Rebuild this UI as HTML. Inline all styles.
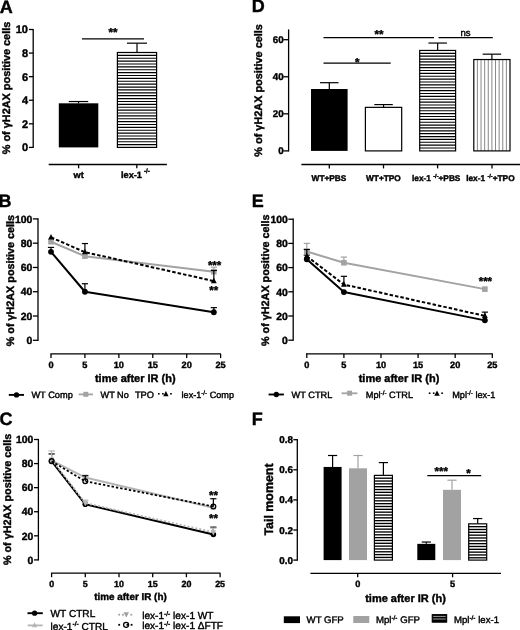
<!DOCTYPE html>
<html><head><meta charset="utf-8"><style>
html,body{margin:0;padding:0;background:#fff;width:520px;height:630px;overflow:hidden}
svg{display:block;will-change:transform}
text{font-family:"Liberation Sans", sans-serif;text-rendering:geometricPrecision}
</style></head><body>
<svg width="520" height="630" viewBox="0 0 520 630">
<rect width="520" height="630" fill="#fff"/>
<text x="-0.20" y="12.50" font-size="18" font-weight="bold" text-anchor="start" fill="#000" stroke="#000" stroke-width="0.4" >A</text>
<text x="0" y="0" font-size="10.9" font-weight="bold" text-anchor="middle" stroke="#000" stroke-width="0.4" transform="translate(9.6,88.0) rotate(-90)">% of γH2AX positive cells</text>
<line x1="33.20" y1="28.90" x2="33.20" y2="148.00" stroke="#000" stroke-width="1.3" />
<line x1="28.90" y1="147.40" x2="33.20" y2="147.40" stroke="#000" stroke-width="1.3" />
<text x="28.00" y="151.34" font-size="11" font-weight="bold" text-anchor="end" fill="#000" stroke="#000" stroke-width="0.4" >0</text>
<line x1="28.90" y1="123.82" x2="33.20" y2="123.82" stroke="#000" stroke-width="1.3" />
<text x="28.00" y="127.76" font-size="11" font-weight="bold" text-anchor="end" fill="#000" stroke="#000" stroke-width="0.4" >2</text>
<line x1="28.90" y1="100.24" x2="33.20" y2="100.24" stroke="#000" stroke-width="1.3" />
<text x="28.00" y="104.18" font-size="11" font-weight="bold" text-anchor="end" fill="#000" stroke="#000" stroke-width="0.4" >4</text>
<line x1="28.90" y1="76.66" x2="33.20" y2="76.66" stroke="#000" stroke-width="1.3" />
<text x="28.00" y="80.60" font-size="11" font-weight="bold" text-anchor="end" fill="#000" stroke="#000" stroke-width="0.4" >6</text>
<line x1="28.90" y1="53.08" x2="33.20" y2="53.08" stroke="#000" stroke-width="1.3" />
<text x="28.00" y="57.02" font-size="11" font-weight="bold" text-anchor="end" fill="#000" stroke="#000" stroke-width="0.4" >8</text>
<line x1="28.90" y1="29.50" x2="33.20" y2="29.50" stroke="#000" stroke-width="1.3" />
<text x="28.00" y="33.44" font-size="11" font-weight="bold" text-anchor="end" fill="#000" stroke="#000" stroke-width="0.4" >10</text>
<rect x="58.80" y="103.31" width="39.50" height="44.09" fill="#000" stroke="none" stroke-width="1.2" />
<line x1="78.50" y1="103.31" x2="78.50" y2="101.54" stroke="#000" stroke-width="1.2" />
<line x1="68.75" y1="101.54" x2="88.25" y2="101.54" stroke="#000" stroke-width="1.2" />
<line x1="137.00" y1="52.49" x2="137.00" y2="43.18" stroke="#000" stroke-width="1.2" />
<line x1="127.00" y1="43.18" x2="147.00" y2="43.18" stroke="#000" stroke-width="1.2" />
<rect x="117.40" y="52.49" width="39.20" height="94.91" fill="#fff" stroke="none" stroke-width="1.2" />
<line x1="117.40" y1="55.37" x2="156.60" y2="55.37" stroke="#000" stroke-width="1.15" />
<line x1="117.40" y1="58.25" x2="156.60" y2="58.25" stroke="#000" stroke-width="1.15" />
<line x1="117.40" y1="61.13" x2="156.60" y2="61.13" stroke="#000" stroke-width="1.15" />
<line x1="117.40" y1="64.01" x2="156.60" y2="64.01" stroke="#000" stroke-width="1.15" />
<line x1="117.40" y1="66.89" x2="156.60" y2="66.89" stroke="#000" stroke-width="1.15" />
<line x1="117.40" y1="69.77" x2="156.60" y2="69.77" stroke="#000" stroke-width="1.15" />
<line x1="117.40" y1="72.65" x2="156.60" y2="72.65" stroke="#000" stroke-width="1.15" />
<line x1="117.40" y1="75.53" x2="156.60" y2="75.53" stroke="#000" stroke-width="1.15" />
<line x1="117.40" y1="78.41" x2="156.60" y2="78.41" stroke="#000" stroke-width="1.15" />
<line x1="117.40" y1="81.29" x2="156.60" y2="81.29" stroke="#000" stroke-width="1.15" />
<line x1="117.40" y1="84.17" x2="156.60" y2="84.17" stroke="#000" stroke-width="1.15" />
<line x1="117.40" y1="87.05" x2="156.60" y2="87.05" stroke="#000" stroke-width="1.15" />
<line x1="117.40" y1="89.93" x2="156.60" y2="89.93" stroke="#000" stroke-width="1.15" />
<line x1="117.40" y1="92.81" x2="156.60" y2="92.81" stroke="#000" stroke-width="1.15" />
<line x1="117.40" y1="95.69" x2="156.60" y2="95.69" stroke="#000" stroke-width="1.15" />
<line x1="117.40" y1="98.57" x2="156.60" y2="98.57" stroke="#000" stroke-width="1.15" />
<line x1="117.40" y1="101.45" x2="156.60" y2="101.45" stroke="#000" stroke-width="1.15" />
<line x1="117.40" y1="104.33" x2="156.60" y2="104.33" stroke="#000" stroke-width="1.15" />
<line x1="117.40" y1="107.21" x2="156.60" y2="107.21" stroke="#000" stroke-width="1.15" />
<line x1="117.40" y1="110.09" x2="156.60" y2="110.09" stroke="#000" stroke-width="1.15" />
<line x1="117.40" y1="112.97" x2="156.60" y2="112.97" stroke="#000" stroke-width="1.15" />
<line x1="117.40" y1="115.85" x2="156.60" y2="115.85" stroke="#000" stroke-width="1.15" />
<line x1="117.40" y1="118.73" x2="156.60" y2="118.73" stroke="#000" stroke-width="1.15" />
<line x1="117.40" y1="121.61" x2="156.60" y2="121.61" stroke="#000" stroke-width="1.15" />
<line x1="117.40" y1="124.49" x2="156.60" y2="124.49" stroke="#000" stroke-width="1.15" />
<line x1="117.40" y1="127.37" x2="156.60" y2="127.37" stroke="#000" stroke-width="1.15" />
<line x1="117.40" y1="130.25" x2="156.60" y2="130.25" stroke="#000" stroke-width="1.15" />
<line x1="117.40" y1="133.13" x2="156.60" y2="133.13" stroke="#000" stroke-width="1.15" />
<line x1="117.40" y1="136.01" x2="156.60" y2="136.01" stroke="#000" stroke-width="1.15" />
<line x1="117.40" y1="138.89" x2="156.60" y2="138.89" stroke="#000" stroke-width="1.15" />
<line x1="117.40" y1="141.77" x2="156.60" y2="141.77" stroke="#000" stroke-width="1.15" />
<line x1="117.40" y1="144.65" x2="156.60" y2="144.65" stroke="#000" stroke-width="1.15" />
<rect x="117.40" y="52.49" width="39.20" height="94.91" fill="none" stroke="#000" stroke-width="1.2" />
<line x1="82.00" y1="38.80" x2="144.00" y2="38.80" stroke="#000" stroke-width="1.3" />
<text x="113.00" y="36.30" font-size="11.5" font-weight="bold" text-anchor="middle" fill="#000" stroke="#000" stroke-width="0.4" >**</text>
<line x1="48.70" y1="164.50" x2="166.90" y2="164.50" stroke="#000" stroke-width="1.3" />
<line x1="78.60" y1="164.50" x2="78.60" y2="168.30" stroke="#000" stroke-width="1.3" />
<line x1="136.80" y1="164.50" x2="136.80" y2="168.30" stroke="#000" stroke-width="1.3" />
<text x="78.70" y="178.00" font-size="9.2" font-weight="bold" text-anchor="middle" fill="#000" stroke="#000" stroke-width="0.4" >wt</text>
<text x="121.00" y="178.00" font-size="9.2" font-weight="bold" text-anchor="start" fill="#000" stroke="#000" stroke-width="0.4" >lex-1</text>
<text x="143.90" y="173.30" font-size="6.2" font-weight="bold" text-anchor="start" fill="#000" stroke="#000" stroke-width="0.4" >-/-</text>
<text x="251.80" y="12.40" font-size="18" font-weight="bold" text-anchor="start" fill="#000" stroke="#000" stroke-width="0.4" >D</text>
<text x="0" y="0" font-size="10.9" font-weight="bold" text-anchor="middle" stroke="#000" stroke-width="0.4" transform="translate(262.0,90.4) rotate(-90)">% of γH2AX positive cells</text>
<line x1="288.60" y1="29.40" x2="288.60" y2="151.50" stroke="#000" stroke-width="1.3" />
<line x1="283.40" y1="150.90" x2="288.60" y2="150.90" stroke="#000" stroke-width="1.3" />
<text x="283.60" y="154.40" font-size="9.8" font-weight="bold" text-anchor="end" fill="#000" stroke="#000" stroke-width="0.4" >0</text>
<line x1="283.40" y1="113.83" x2="288.60" y2="113.83" stroke="#000" stroke-width="1.3" />
<text x="283.60" y="117.33" font-size="9.8" font-weight="bold" text-anchor="end" fill="#000" stroke="#000" stroke-width="0.4" >20</text>
<line x1="283.40" y1="76.77" x2="288.60" y2="76.77" stroke="#000" stroke-width="1.3" />
<text x="283.60" y="80.27" font-size="9.8" font-weight="bold" text-anchor="end" fill="#000" stroke="#000" stroke-width="0.4" >40</text>
<line x1="283.40" y1="39.70" x2="288.60" y2="39.70" stroke="#000" stroke-width="1.3" />
<text x="283.60" y="43.20" font-size="9.8" font-weight="bold" text-anchor="end" fill="#000" stroke="#000" stroke-width="0.4" >60</text>
<line x1="329.30" y1="89.00" x2="329.30" y2="82.70" stroke="#000" stroke-width="1.2" />
<line x1="320.05" y1="82.70" x2="338.55" y2="82.70" stroke="#000" stroke-width="1.2" />
<rect x="311.00" y="89.00" width="36.60" height="61.90" fill="#000" stroke="none" stroke-width="1.2" />
<line x1="383.55" y1="107.35" x2="383.55" y2="104.57" stroke="#000" stroke-width="1.2" />
<line x1="374.30" y1="104.57" x2="392.80" y2="104.57" stroke="#000" stroke-width="1.2" />
<rect x="365.40" y="107.35" width="36.30" height="43.55" fill="#fff" stroke="#000" stroke-width="1.2" />
<line x1="437.65" y1="50.45" x2="437.65" y2="43.04" stroke="#000" stroke-width="1.2" />
<line x1="428.40" y1="43.04" x2="446.90" y2="43.04" stroke="#000" stroke-width="1.2" />
<rect x="419.70" y="50.45" width="35.90" height="100.45" fill="#fff" stroke="none" stroke-width="1.2" />
<line x1="419.70" y1="53.32" x2="455.60" y2="53.32" stroke="#000" stroke-width="1.15" />
<line x1="419.70" y1="56.19" x2="455.60" y2="56.19" stroke="#000" stroke-width="1.15" />
<line x1="419.70" y1="59.06" x2="455.60" y2="59.06" stroke="#000" stroke-width="1.15" />
<line x1="419.70" y1="61.93" x2="455.60" y2="61.93" stroke="#000" stroke-width="1.15" />
<line x1="419.70" y1="64.80" x2="455.60" y2="64.80" stroke="#000" stroke-width="1.15" />
<line x1="419.70" y1="67.67" x2="455.60" y2="67.67" stroke="#000" stroke-width="1.15" />
<line x1="419.70" y1="70.54" x2="455.60" y2="70.54" stroke="#000" stroke-width="1.15" />
<line x1="419.70" y1="73.41" x2="455.60" y2="73.41" stroke="#000" stroke-width="1.15" />
<line x1="419.70" y1="76.28" x2="455.60" y2="76.28" stroke="#000" stroke-width="1.15" />
<line x1="419.70" y1="79.15" x2="455.60" y2="79.15" stroke="#000" stroke-width="1.15" />
<line x1="419.70" y1="82.02" x2="455.60" y2="82.02" stroke="#000" stroke-width="1.15" />
<line x1="419.70" y1="84.89" x2="455.60" y2="84.89" stroke="#000" stroke-width="1.15" />
<line x1="419.70" y1="87.76" x2="455.60" y2="87.76" stroke="#000" stroke-width="1.15" />
<line x1="419.70" y1="90.63" x2="455.60" y2="90.63" stroke="#000" stroke-width="1.15" />
<line x1="419.70" y1="93.50" x2="455.60" y2="93.50" stroke="#000" stroke-width="1.15" />
<line x1="419.70" y1="96.37" x2="455.60" y2="96.37" stroke="#000" stroke-width="1.15" />
<line x1="419.70" y1="99.24" x2="455.60" y2="99.24" stroke="#000" stroke-width="1.15" />
<line x1="419.70" y1="102.11" x2="455.60" y2="102.11" stroke="#000" stroke-width="1.15" />
<line x1="419.70" y1="104.98" x2="455.60" y2="104.98" stroke="#000" stroke-width="1.15" />
<line x1="419.70" y1="107.85" x2="455.60" y2="107.85" stroke="#000" stroke-width="1.15" />
<line x1="419.70" y1="110.72" x2="455.60" y2="110.72" stroke="#000" stroke-width="1.15" />
<line x1="419.70" y1="113.59" x2="455.60" y2="113.59" stroke="#000" stroke-width="1.15" />
<line x1="419.70" y1="116.46" x2="455.60" y2="116.46" stroke="#000" stroke-width="1.15" />
<line x1="419.70" y1="119.33" x2="455.60" y2="119.33" stroke="#000" stroke-width="1.15" />
<line x1="419.70" y1="122.20" x2="455.60" y2="122.20" stroke="#000" stroke-width="1.15" />
<line x1="419.70" y1="125.07" x2="455.60" y2="125.07" stroke="#000" stroke-width="1.15" />
<line x1="419.70" y1="127.94" x2="455.60" y2="127.94" stroke="#000" stroke-width="1.15" />
<line x1="419.70" y1="130.81" x2="455.60" y2="130.81" stroke="#000" stroke-width="1.15" />
<line x1="419.70" y1="133.68" x2="455.60" y2="133.68" stroke="#000" stroke-width="1.15" />
<line x1="419.70" y1="136.55" x2="455.60" y2="136.55" stroke="#000" stroke-width="1.15" />
<line x1="419.70" y1="139.42" x2="455.60" y2="139.42" stroke="#000" stroke-width="1.15" />
<line x1="419.70" y1="142.29" x2="455.60" y2="142.29" stroke="#000" stroke-width="1.15" />
<line x1="419.70" y1="145.16" x2="455.60" y2="145.16" stroke="#000" stroke-width="1.15" />
<line x1="419.70" y1="148.03" x2="455.60" y2="148.03" stroke="#000" stroke-width="1.15" />
<rect x="419.70" y="50.45" width="35.90" height="100.45" fill="none" stroke="#000" stroke-width="1.2" />
<line x1="491.90" y1="59.53" x2="491.90" y2="54.16" stroke="#000" stroke-width="1.2" />
<line x1="482.65" y1="54.16" x2="501.15" y2="54.16" stroke="#000" stroke-width="1.2" />
<rect x="473.80" y="59.53" width="36.20" height="91.37" fill="#fff" stroke="none" stroke-width="1.2" />
<line x1="477.42" y1="59.53" x2="477.42" y2="150.90" stroke="#7a7a7a" stroke-width="0.9" />
<line x1="481.04" y1="59.53" x2="481.04" y2="150.90" stroke="#7a7a7a" stroke-width="0.9" />
<line x1="484.66" y1="59.53" x2="484.66" y2="150.90" stroke="#7a7a7a" stroke-width="0.9" />
<line x1="488.28" y1="59.53" x2="488.28" y2="150.90" stroke="#7a7a7a" stroke-width="0.9" />
<line x1="491.90" y1="59.53" x2="491.90" y2="150.90" stroke="#7a7a7a" stroke-width="0.9" />
<line x1="495.52" y1="59.53" x2="495.52" y2="150.90" stroke="#7a7a7a" stroke-width="0.9" />
<line x1="499.14" y1="59.53" x2="499.14" y2="150.90" stroke="#7a7a7a" stroke-width="0.9" />
<line x1="502.76" y1="59.53" x2="502.76" y2="150.90" stroke="#7a7a7a" stroke-width="0.9" />
<line x1="506.38" y1="59.53" x2="506.38" y2="150.90" stroke="#7a7a7a" stroke-width="0.9" />
<rect x="473.80" y="59.53" width="36.20" height="91.37" fill="none" stroke="#000" stroke-width="1.2" />
<line x1="323.50" y1="63.20" x2="390.70" y2="63.20" stroke="#000" stroke-width="1.3" />
<text x="357.30" y="65.90" font-size="11.5" font-weight="bold" text-anchor="middle" fill="#000" stroke="#000" stroke-width="0.4" >*</text>
<line x1="323.50" y1="37.70" x2="434.00" y2="37.70" stroke="#000" stroke-width="1.3" />
<text x="379.10" y="38.20" font-size="11.5" font-weight="bold" text-anchor="middle" fill="#000" stroke="#000" stroke-width="0.4" >**</text>
<line x1="438.50" y1="37.70" x2="492.80" y2="37.70" stroke="#000" stroke-width="1.3" />
<text x="465.60" y="36.00" font-size="9.6" font-weight="normal" text-anchor="middle" fill="#000" stroke="#000" stroke-width="0.4" >ns</text>
<line x1="301.40" y1="164.50" x2="521.10" y2="164.50" stroke="#000" stroke-width="1.3" />
<line x1="329.30" y1="164.50" x2="329.30" y2="168.40" stroke="#000" stroke-width="1.3" />
<line x1="383.50" y1="164.50" x2="383.50" y2="168.40" stroke="#000" stroke-width="1.3" />
<line x1="437.60" y1="164.50" x2="437.60" y2="168.40" stroke="#000" stroke-width="1.3" />
<line x1="492.00" y1="164.50" x2="492.00" y2="168.40" stroke="#000" stroke-width="1.3" />
<text x="329.00" y="180.60" font-size="8.3" font-weight="bold" text-anchor="middle" fill="#000" stroke="#000" stroke-width="0.4" >WT+PBS</text>
<text x="383.40" y="180.60" font-size="8.3" font-weight="bold" text-anchor="middle" fill="#000" stroke="#000" stroke-width="0.4" >WT+TPO</text>
<text x="412.00" y="180.60" font-size="8.3" font-weight="bold" text-anchor="start" fill="#000" stroke="#000" stroke-width="0.4" >lex-1 <tspan font-size="5.6" dy="-2.80">-/-</tspan><tspan dy="2.8">+PBS</tspan></text>
<text x="466.20" y="180.60" font-size="8.3" font-weight="bold" text-anchor="start" fill="#000" stroke="#000" stroke-width="0.4" >lex-1 <tspan font-size="5.6" dy="-2.80">-/-</tspan><tspan dy="2.8">+TPO</tspan></text>
<text x="-1.60" y="206.80" font-size="18" font-weight="bold" text-anchor="start" fill="#000" stroke="#000" stroke-width="0.4" >B</text>
<text x="0" y="0" font-size="10.8" font-weight="bold" text-anchor="middle" stroke="#000" stroke-width="0.4" transform="translate(13.9,280.6) rotate(-90)">% of γH2AX positive cells</text>
<line x1="38.00" y1="218.30" x2="38.00" y2="340.90" stroke="#000" stroke-width="1.3" />
<line x1="32.90" y1="340.30" x2="38.00" y2="340.30" stroke="#000" stroke-width="1.3" />
<text x="32.30" y="344.02" font-size="10.4" font-weight="bold" text-anchor="end" fill="#000" stroke="#000" stroke-width="0.4" >0</text>
<line x1="32.90" y1="316.02" x2="38.00" y2="316.02" stroke="#000" stroke-width="1.3" />
<text x="32.30" y="319.74" font-size="10.4" font-weight="bold" text-anchor="end" fill="#000" stroke="#000" stroke-width="0.4" >20</text>
<line x1="32.90" y1="291.74" x2="38.00" y2="291.74" stroke="#000" stroke-width="1.3" />
<text x="32.30" y="295.46" font-size="10.4" font-weight="bold" text-anchor="end" fill="#000" stroke="#000" stroke-width="0.4" >40</text>
<line x1="32.90" y1="267.46" x2="38.00" y2="267.46" stroke="#000" stroke-width="1.3" />
<text x="32.30" y="271.18" font-size="10.4" font-weight="bold" text-anchor="end" fill="#000" stroke="#000" stroke-width="0.4" >60</text>
<line x1="32.90" y1="243.18" x2="38.00" y2="243.18" stroke="#000" stroke-width="1.3" />
<text x="32.30" y="246.90" font-size="10.4" font-weight="bold" text-anchor="end" fill="#000" stroke="#000" stroke-width="0.4" >80</text>
<line x1="32.90" y1="218.90" x2="38.00" y2="218.90" stroke="#000" stroke-width="1.3" />
<text x="32.30" y="222.62" font-size="10.4" font-weight="bold" text-anchor="end" fill="#000" stroke="#000" stroke-width="0.4" >100</text>
<polyline points="51.00,251.80 84.92,291.74 213.84,312.26" fill="none" stroke="#000" stroke-width="2.0" stroke-linejoin="round" />
<line x1="51.00" y1="251.80" x2="51.00" y2="247.43" stroke="#000" stroke-width="1.2" />
<line x1="47.90" y1="247.43" x2="54.10" y2="247.43" stroke="#000" stroke-width="1.2" />
<line x1="84.92" y1="291.74" x2="84.92" y2="283.73" stroke="#000" stroke-width="1.2" />
<line x1="81.83" y1="283.73" x2="88.02" y2="283.73" stroke="#000" stroke-width="1.2" />
<line x1="213.84" y1="312.26" x2="213.84" y2="307.64" stroke="#000" stroke-width="1.2" />
<line x1="210.74" y1="307.64" x2="216.94" y2="307.64" stroke="#000" stroke-width="1.2" />
<circle cx="51.00" cy="251.80" r="2.9" fill="#000" stroke="none" stroke-width="1"/>
<circle cx="84.92" cy="291.74" r="2.9" fill="#000" stroke="none" stroke-width="1"/>
<circle cx="213.84" cy="312.26" r="2.9" fill="#000" stroke="none" stroke-width="1"/>
<polyline points="51.00,241.72 84.92,256.17 213.84,271.71" fill="none" stroke="#a3a3a3" stroke-width="2.0" stroke-linejoin="round" />
<line x1="213.84" y1="271.71" x2="213.84" y2="267.22" stroke="#a3a3a3" stroke-width="1.2" />
<line x1="210.74" y1="267.22" x2="216.94" y2="267.22" stroke="#a3a3a3" stroke-width="1.2" />
<rect x="48.20" y="238.92" width="5.6" height="5.6" fill="#a3a3a3"/>
<rect x="82.12" y="253.37" width="5.6" height="5.6" fill="#a3a3a3"/>
<rect x="211.04" y="268.91" width="5.6" height="5.6" fill="#a3a3a3"/>
<polyline points="51.00,237.35 84.92,252.16 213.84,281.06" fill="none" stroke="#000" stroke-width="2.0" stroke-linejoin="round" stroke-dasharray="3.5,2"/>
<line x1="84.92" y1="252.16" x2="84.92" y2="243.54" stroke="#000" stroke-width="1.2" />
<line x1="81.83" y1="243.54" x2="88.02" y2="243.54" stroke="#000" stroke-width="1.2" />
<line x1="213.84" y1="281.06" x2="213.84" y2="270.50" stroke="#000" stroke-width="1.2" />
<line x1="210.74" y1="270.50" x2="216.94" y2="270.50" stroke="#000" stroke-width="1.2" />
<polygon points="51.00,233.94 48.10,239.45 53.90,239.45" fill="#000"/>
<polygon points="84.92,248.75 82.02,254.26 87.83,254.26" fill="#000"/>
<polygon points="213.84,277.64 210.94,283.15 216.74,283.15" fill="#000"/>
<text x="214.60" y="268.70" font-size="11.5" font-weight="bold" text-anchor="middle" fill="#000" stroke="#000" stroke-width="0.4" >***</text>
<text x="213.80" y="293.70" font-size="11.5" font-weight="bold" text-anchor="middle" fill="#000" stroke="#000" stroke-width="0.4" >**</text>
<line x1="50.40" y1="353.90" x2="220.90" y2="353.90" stroke="#000" stroke-width="1.3" />
<line x1="51.00" y1="353.90" x2="51.00" y2="358.10" stroke="#000" stroke-width="1.3" />
<text x="51.00" y="367.80" font-size="9.2" font-weight="bold" text-anchor="middle" fill="#000" stroke="#000" stroke-width="0.4" >0</text>
<line x1="84.92" y1="353.90" x2="84.92" y2="358.10" stroke="#000" stroke-width="1.3" />
<text x="84.92" y="367.80" font-size="9.2" font-weight="bold" text-anchor="middle" fill="#000" stroke="#000" stroke-width="0.4" >5</text>
<line x1="118.85" y1="353.90" x2="118.85" y2="358.10" stroke="#000" stroke-width="1.3" />
<text x="118.85" y="367.80" font-size="9.2" font-weight="bold" text-anchor="middle" fill="#000" stroke="#000" stroke-width="0.4" >10</text>
<line x1="152.78" y1="353.90" x2="152.78" y2="358.10" stroke="#000" stroke-width="1.3" />
<text x="152.78" y="367.80" font-size="9.2" font-weight="bold" text-anchor="middle" fill="#000" stroke="#000" stroke-width="0.4" >15</text>
<line x1="186.70" y1="353.90" x2="186.70" y2="358.10" stroke="#000" stroke-width="1.3" />
<text x="186.70" y="367.80" font-size="9.2" font-weight="bold" text-anchor="middle" fill="#000" stroke="#000" stroke-width="0.4" >20</text>
<line x1="220.62" y1="353.90" x2="220.62" y2="358.10" stroke="#000" stroke-width="1.3" />
<text x="220.62" y="367.80" font-size="9.2" font-weight="bold" text-anchor="middle" fill="#000" stroke="#000" stroke-width="0.4" >25</text>
<text x="135.30" y="382.20" font-size="11" font-weight="bold" text-anchor="middle" fill="#000" stroke="#000" stroke-width="0.4" >time after IR (h)</text>
<line x1="8.80" y1="394.90" x2="24.00" y2="394.90" stroke="#000" stroke-width="1.9" />
<circle cx="16.50" cy="394.90" r="2.65" fill="#000" stroke="none" stroke-width="1"/>
<text x="31.40" y="398.20" font-size="9.25" font-weight="normal" text-anchor="start" fill="#000" stroke="#000" stroke-width="0.4" >WT Comp</text>
<line x1="78.70" y1="394.40" x2="93.00" y2="394.40" stroke="#a3a3a3" stroke-width="1.8" />
<rect x="83.30" y="391.80" width="5.0" height="5.0" fill="#a3a3a3"/>
<text x="100.60" y="398.20" font-size="9.1" font-weight="normal" text-anchor="start" fill="#000" stroke="#000" stroke-width="0.4" >WT No</text>
<text x="134.90" y="398.20" font-size="9.3" font-weight="normal" text-anchor="start" fill="#000" stroke="#000" stroke-width="0.4" >TPO</text>
<rect x="158.00" y="393.00" width="1.6" height="1.6" fill="#000"/>
<rect x="162.10" y="393.00" width="1.6" height="1.6" fill="#000"/>
<rect x="170.20" y="393.00" width="1.6" height="1.6" fill="#000"/>
<polygon points="165.90,391.12 163.20,396.25 168.60,396.25" fill="#000"/>
<text x="181.60" y="398.20" font-size="9.1" font-weight="normal" text-anchor="start" fill="#000" stroke="#000" stroke-width="0.4" >lex-1<tspan font-size="6.2" dy="-3.10">-/-</tspan><tspan dy="3.1"> Comp</tspan></text>
<text x="251.80" y="207.10" font-size="18" font-weight="bold" text-anchor="start" fill="#000" stroke="#000" stroke-width="0.4" >E</text>
<text x="0" y="0" font-size="10.8" font-weight="bold" text-anchor="middle" stroke="#000" stroke-width="0.4" transform="translate(268.7,280.3) rotate(-90)">% of γH2AX positive cells</text>
<line x1="293.20" y1="218.60" x2="293.20" y2="340.80" stroke="#000" stroke-width="1.3" />
<line x1="288.30" y1="340.20" x2="293.20" y2="340.20" stroke="#000" stroke-width="1.3" />
<text x="287.80" y="343.92" font-size="10.4" font-weight="bold" text-anchor="end" fill="#000" stroke="#000" stroke-width="0.4" >0</text>
<line x1="288.30" y1="316.00" x2="293.20" y2="316.00" stroke="#000" stroke-width="1.3" />
<text x="287.80" y="319.72" font-size="10.4" font-weight="bold" text-anchor="end" fill="#000" stroke="#000" stroke-width="0.4" >20</text>
<line x1="288.30" y1="291.80" x2="293.20" y2="291.80" stroke="#000" stroke-width="1.3" />
<text x="287.80" y="295.52" font-size="10.4" font-weight="bold" text-anchor="end" fill="#000" stroke="#000" stroke-width="0.4" >40</text>
<line x1="288.30" y1="267.60" x2="293.20" y2="267.60" stroke="#000" stroke-width="1.3" />
<text x="287.80" y="271.32" font-size="10.4" font-weight="bold" text-anchor="end" fill="#000" stroke="#000" stroke-width="0.4" >60</text>
<line x1="288.30" y1="243.40" x2="293.20" y2="243.40" stroke="#000" stroke-width="1.3" />
<text x="287.80" y="247.12" font-size="10.4" font-weight="bold" text-anchor="end" fill="#000" stroke="#000" stroke-width="0.4" >80</text>
<line x1="288.30" y1="219.20" x2="293.20" y2="219.20" stroke="#000" stroke-width="1.3" />
<text x="287.80" y="222.92" font-size="10.4" font-weight="bold" text-anchor="end" fill="#000" stroke="#000" stroke-width="0.4" >100</text>
<polyline points="306.80,259.25 343.90,292.04 484.88,320.36" fill="none" stroke="#000" stroke-width="2.0" stroke-linejoin="round" />
<line x1="306.80" y1="259.25" x2="306.80" y2="255.14" stroke="#000" stroke-width="1.2" />
<line x1="303.70" y1="255.14" x2="309.90" y2="255.14" stroke="#000" stroke-width="1.2" />
<circle cx="306.80" cy="259.25" r="2.9" fill="#000" stroke="none" stroke-width="1"/>
<circle cx="343.90" cy="292.04" r="2.9" fill="#000" stroke="none" stroke-width="1"/>
<circle cx="484.88" cy="320.36" r="2.9" fill="#000" stroke="none" stroke-width="1"/>
<polyline points="306.80,251.51 343.90,262.76 484.88,289.14" fill="none" stroke="#a3a3a3" stroke-width="2.0" stroke-linejoin="round" />
<line x1="306.80" y1="251.51" x2="306.80" y2="243.40" stroke="#a3a3a3" stroke-width="1.2" />
<line x1="303.70" y1="243.40" x2="309.90" y2="243.40" stroke="#a3a3a3" stroke-width="1.2" />
<line x1="343.90" y1="262.76" x2="343.90" y2="257.07" stroke="#a3a3a3" stroke-width="1.2" />
<line x1="340.80" y1="257.07" x2="347.00" y2="257.07" stroke="#a3a3a3" stroke-width="1.2" />
<rect x="304.00" y="248.71" width="5.6" height="5.6" fill="#a3a3a3"/>
<rect x="341.10" y="259.96" width="5.6" height="5.6" fill="#a3a3a3"/>
<rect x="482.08" y="286.34" width="5.6" height="5.6" fill="#a3a3a3"/>
<polyline points="306.80,256.23 343.90,284.54 484.88,315.88" fill="none" stroke="#000" stroke-width="2.0" stroke-linejoin="round" stroke-dasharray="3.5,2"/>
<line x1="306.80" y1="256.23" x2="306.80" y2="249.45" stroke="#000" stroke-width="1.2" />
<line x1="303.70" y1="249.45" x2="309.90" y2="249.45" stroke="#000" stroke-width="1.2" />
<line x1="343.90" y1="284.54" x2="343.90" y2="276.31" stroke="#000" stroke-width="1.2" />
<line x1="340.80" y1="276.31" x2="347.00" y2="276.31" stroke="#000" stroke-width="1.2" />
<line x1="484.88" y1="315.88" x2="484.88" y2="312.13" stroke="#000" stroke-width="1.2" />
<line x1="481.78" y1="312.13" x2="487.98" y2="312.13" stroke="#000" stroke-width="1.2" />
<polygon points="306.80,252.81 303.90,258.32 309.70,258.32" fill="#000"/>
<polygon points="343.90,281.12 341.00,286.63 346.80,286.63" fill="#000"/>
<polygon points="484.88,312.46 481.98,317.97 487.78,317.97" fill="#000"/>
<text x="485.40" y="284.50" font-size="11.5" font-weight="bold" text-anchor="middle" fill="#000" stroke="#000" stroke-width="0.4" >***</text>
<line x1="306.00" y1="353.80" x2="492.80" y2="353.80" stroke="#000" stroke-width="1.3" />
<line x1="306.80" y1="353.80" x2="306.80" y2="358.00" stroke="#000" stroke-width="1.3" />
<text x="306.80" y="367.60" font-size="9.2" font-weight="bold" text-anchor="middle" fill="#000" stroke="#000" stroke-width="0.4" >0</text>
<line x1="343.90" y1="353.80" x2="343.90" y2="358.00" stroke="#000" stroke-width="1.3" />
<text x="343.90" y="367.60" font-size="9.2" font-weight="bold" text-anchor="middle" fill="#000" stroke="#000" stroke-width="0.4" >5</text>
<line x1="381.00" y1="353.80" x2="381.00" y2="358.00" stroke="#000" stroke-width="1.3" />
<text x="381.00" y="367.60" font-size="9.2" font-weight="bold" text-anchor="middle" fill="#000" stroke="#000" stroke-width="0.4" >10</text>
<line x1="418.10" y1="353.80" x2="418.10" y2="358.00" stroke="#000" stroke-width="1.3" />
<text x="418.10" y="367.60" font-size="9.2" font-weight="bold" text-anchor="middle" fill="#000" stroke="#000" stroke-width="0.4" >15</text>
<line x1="455.20" y1="353.80" x2="455.20" y2="358.00" stroke="#000" stroke-width="1.3" />
<text x="455.20" y="367.60" font-size="9.2" font-weight="bold" text-anchor="middle" fill="#000" stroke="#000" stroke-width="0.4" >20</text>
<line x1="492.30" y1="353.80" x2="492.30" y2="358.00" stroke="#000" stroke-width="1.3" />
<text x="492.30" y="367.60" font-size="9.2" font-weight="bold" text-anchor="middle" fill="#000" stroke="#000" stroke-width="0.4" >25</text>
<text x="399.00" y="381.60" font-size="11" font-weight="bold" text-anchor="middle" fill="#000" stroke="#000" stroke-width="0.4" >time after IR (h)</text>
<line x1="268.60" y1="394.50" x2="283.90" y2="394.50" stroke="#000" stroke-width="1.9" />
<circle cx="276.30" cy="394.50" r="2.65" fill="#000" stroke="none" stroke-width="1"/>
<text x="291.60" y="397.80" font-size="9.2" font-weight="normal" text-anchor="start" fill="#000" stroke="#000" stroke-width="0.4" >WT CTRL</text>
<line x1="341.50" y1="393.30" x2="357.40" y2="393.30" stroke="#a3a3a3" stroke-width="1.8" />
<rect x="347.10" y="390.70" width="5.0" height="5.0" fill="#a3a3a3"/>
<text x="365.80" y="397.80" font-size="9.2" font-weight="normal" text-anchor="start" fill="#000" stroke="#000" stroke-width="0.4" >Mpl<tspan font-size="6.2" dy="-3.10">-/-</tspan><tspan dy="3.1"> CTRL</tspan></text>
<rect x="428.80" y="392.40" width="1.6" height="1.6" fill="#000"/>
<rect x="432.90" y="392.40" width="1.6" height="1.6" fill="#000"/>
<rect x="441.30" y="392.40" width="1.6" height="1.6" fill="#000"/>
<polygon points="437.00,390.46 434.25,395.69 439.75,395.69" fill="#000"/>
<text x="452.20" y="397.80" font-size="9.2" font-weight="normal" text-anchor="start" fill="#000" stroke="#000" stroke-width="0.4" >Mpl<tspan font-size="6.2" dy="-3.10">-/-</tspan><tspan dy="3.1"> lex-1</tspan></text>
<text x="-0.60" y="425.30" font-size="18" font-weight="bold" text-anchor="start" fill="#000" stroke="#000" stroke-width="0.4" >C</text>
<text x="0" y="0" font-size="10.8" font-weight="bold" text-anchor="middle" stroke="#000" stroke-width="0.4" transform="translate(11.1,499.4) rotate(-90)">% of γH2AX positive cells</text>
<line x1="38.40" y1="438.90" x2="38.40" y2="560.50" stroke="#000" stroke-width="1.3" />
<line x1="34.00" y1="559.90" x2="38.40" y2="559.90" stroke="#000" stroke-width="1.3" />
<text x="33.40" y="563.62" font-size="10.4" font-weight="bold" text-anchor="end" fill="#000" stroke="#000" stroke-width="0.4" >0</text>
<line x1="34.00" y1="535.82" x2="38.40" y2="535.82" stroke="#000" stroke-width="1.3" />
<text x="33.40" y="539.54" font-size="10.4" font-weight="bold" text-anchor="end" fill="#000" stroke="#000" stroke-width="0.4" >20</text>
<line x1="34.00" y1="511.74" x2="38.40" y2="511.74" stroke="#000" stroke-width="1.3" />
<text x="33.40" y="515.46" font-size="10.4" font-weight="bold" text-anchor="end" fill="#000" stroke="#000" stroke-width="0.4" >40</text>
<line x1="34.00" y1="487.66" x2="38.40" y2="487.66" stroke="#000" stroke-width="1.3" />
<text x="33.40" y="491.38" font-size="10.4" font-weight="bold" text-anchor="end" fill="#000" stroke="#000" stroke-width="0.4" >60</text>
<line x1="34.00" y1="463.58" x2="38.40" y2="463.58" stroke="#000" stroke-width="1.3" />
<text x="33.40" y="467.30" font-size="10.4" font-weight="bold" text-anchor="end" fill="#000" stroke="#000" stroke-width="0.4" >80</text>
<line x1="34.00" y1="439.50" x2="38.40" y2="439.50" stroke="#000" stroke-width="1.3" />
<text x="33.40" y="443.22" font-size="10.4" font-weight="bold" text-anchor="end" fill="#000" stroke="#000" stroke-width="0.4" >100</text>
<polyline points="51.60,461.05 85.30,504.28 213.36,534.50" fill="none" stroke="#000" stroke-width="2.0" stroke-linejoin="round" />
<line x1="51.60" y1="461.05" x2="51.60" y2="453.95" stroke="#000" stroke-width="1.2" />
<line x1="48.50" y1="453.95" x2="54.70" y2="453.95" stroke="#000" stroke-width="1.2" />
<line x1="213.36" y1="534.50" x2="213.36" y2="527.15" stroke="#000" stroke-width="1.2" />
<line x1="210.26" y1="527.15" x2="216.46" y2="527.15" stroke="#000" stroke-width="1.2" />
<circle cx="51.60" cy="461.05" r="2.8" fill="#000" stroke="none" stroke-width="1"/>
<circle cx="85.30" cy="504.28" r="2.8" fill="#000" stroke="none" stroke-width="1"/>
<circle cx="213.36" cy="534.50" r="2.8" fill="#000" stroke="none" stroke-width="1"/>
<polyline points="51.60,460.45 85.30,477.55 213.36,507.77" fill="none" stroke="#b5b5b5" stroke-width="2.0" stroke-linejoin="round" />
<line x1="51.60" y1="460.45" x2="51.60" y2="450.94" stroke="#b5b5b5" stroke-width="1.2" />
<line x1="48.50" y1="450.94" x2="54.70" y2="450.94" stroke="#b5b5b5" stroke-width="1.2" />
<line x1="85.30" y1="477.55" x2="85.30" y2="475.14" stroke="#b5b5b5" stroke-width="1.2" />
<line x1="82.20" y1="475.14" x2="88.40" y2="475.14" stroke="#b5b5b5" stroke-width="1.2" />
<polygon points="51.60,457.27 48.90,462.40 54.30,462.40" fill="#b5b5b5"/>
<polygon points="85.30,474.37 82.60,479.50 88.00,479.50" fill="#b5b5b5"/>
<polygon points="213.36,504.59 210.66,509.72 216.06,509.72" fill="#b5b5b5"/>
<polyline points="51.60,459.37 85.30,503.07 213.36,532.21" fill="none" stroke="#b5b5b5" stroke-width="1.8" stroke-linejoin="round" stroke-dasharray="2,2"/>
<line x1="85.30" y1="503.07" x2="85.30" y2="500.18" stroke="#b5b5b5" stroke-width="1.2" />
<line x1="82.20" y1="500.18" x2="88.40" y2="500.18" stroke="#b5b5b5" stroke-width="1.2" />
<line x1="213.36" y1="532.21" x2="213.36" y2="528.11" stroke="#b5b5b5" stroke-width="1.2" />
<line x1="210.26" y1="528.11" x2="216.46" y2="528.11" stroke="#b5b5b5" stroke-width="1.2" />
<polygon points="51.60,462.55 48.90,457.42 54.30,457.42" fill="#b5b5b5"/>
<polygon points="85.30,506.25 82.60,501.12 88.00,501.12" fill="#b5b5b5"/>
<polygon points="213.36,535.39 210.66,530.26 216.06,530.26" fill="#b5b5b5"/>
<polyline points="51.60,461.17 85.30,481.28 213.36,506.44" fill="none" stroke="#000" stroke-width="1.8" stroke-linejoin="round" stroke-dasharray="2.4,2"/>
<line x1="85.30" y1="481.28" x2="85.30" y2="475.74" stroke="#000" stroke-width="1.2" />
<line x1="82.20" y1="475.74" x2="88.40" y2="475.74" stroke="#000" stroke-width="1.2" />
<line x1="213.36" y1="506.44" x2="213.36" y2="498.74" stroke="#000" stroke-width="1.2" />
<line x1="210.26" y1="498.74" x2="216.46" y2="498.74" stroke="#000" stroke-width="1.2" />
<circle cx="51.60" cy="461.17" r="2.4" fill="none" stroke="#000" stroke-width="1.3"/>
<circle cx="85.30" cy="481.28" r="2.4" fill="none" stroke="#000" stroke-width="1.3"/>
<circle cx="213.36" cy="506.44" r="2.4" fill="none" stroke="#000" stroke-width="1.3"/>
<text x="213.60" y="499.40" font-size="11.5" font-weight="bold" text-anchor="middle" fill="#000" stroke="#000" stroke-width="0.4" >**</text>
<text x="213.60" y="522.40" font-size="11.5" font-weight="bold" text-anchor="middle" fill="#000" stroke="#000" stroke-width="0.4" >**</text>
<line x1="51.00" y1="573.20" x2="220.50" y2="573.20" stroke="#000" stroke-width="1.3" />
<line x1="51.60" y1="573.20" x2="51.60" y2="577.20" stroke="#000" stroke-width="1.3" />
<text x="51.60" y="587.20" font-size="8.9" font-weight="bold" text-anchor="middle" fill="#000" stroke="#000" stroke-width="0.4" >0</text>
<line x1="85.30" y1="573.20" x2="85.30" y2="577.20" stroke="#000" stroke-width="1.3" />
<text x="85.30" y="587.20" font-size="8.9" font-weight="bold" text-anchor="middle" fill="#000" stroke="#000" stroke-width="0.4" >5</text>
<line x1="119.00" y1="573.20" x2="119.00" y2="577.20" stroke="#000" stroke-width="1.3" />
<text x="119.00" y="587.20" font-size="8.9" font-weight="bold" text-anchor="middle" fill="#000" stroke="#000" stroke-width="0.4" >10</text>
<line x1="152.70" y1="573.20" x2="152.70" y2="577.20" stroke="#000" stroke-width="1.3" />
<text x="152.70" y="587.20" font-size="8.9" font-weight="bold" text-anchor="middle" fill="#000" stroke="#000" stroke-width="0.4" >15</text>
<line x1="186.40" y1="573.20" x2="186.40" y2="577.20" stroke="#000" stroke-width="1.3" />
<text x="186.40" y="587.20" font-size="8.9" font-weight="bold" text-anchor="middle" fill="#000" stroke="#000" stroke-width="0.4" >20</text>
<line x1="220.10" y1="573.20" x2="220.10" y2="577.20" stroke="#000" stroke-width="1.3" />
<text x="220.10" y="587.20" font-size="8.9" font-weight="bold" text-anchor="middle" fill="#000" stroke="#000" stroke-width="0.4" >25</text>
<text x="130.50" y="600.00" font-size="9.9" font-weight="bold" text-anchor="middle" fill="#000" stroke="#000" stroke-width="0.4" >time after IR (h)</text>
<line x1="27.50" y1="613.20" x2="42.80" y2="613.20" stroke="#000" stroke-width="1.9" />
<circle cx="34.60" cy="613.20" r="2.65" fill="#000" stroke="none" stroke-width="1"/>
<text x="50.60" y="617.30" font-size="10.1" font-weight="normal" text-anchor="start" fill="#000" stroke="#000" stroke-width="0.4" >WT CTRL</text>
<line x1="27.70" y1="625.40" x2="42.70" y2="625.40" stroke="#b5b5b5" stroke-width="1.8" />
<polygon points="34.60,622.34 32.00,627.28 37.20,627.28" fill="#b5b5b5"/>
<text x="50.60" y="629.50" font-size="10.1" font-weight="normal" text-anchor="start" fill="#000" stroke="#000" stroke-width="0.4" >lex-1<tspan font-size="6.6" dy="-3.30">-/-</tspan><tspan dy="3.3"> CTRL</tspan></text>
<rect x="118.30" y="613.80" width="1.8" height="1.8" fill="#a0a0a0"/>
<rect x="122.10" y="613.80" width="1.8" height="1.8" fill="#a0a0a0"/>
<rect x="130.40" y="613.80" width="1.8" height="1.8" fill="#a0a0a0"/>
<polygon points="126.30,617.38 123.60,612.25 129.00,612.25" fill="#a0a0a0"/>
<text x="142.20" y="618.80" font-size="10.1" font-weight="normal" text-anchor="start" fill="#000" stroke="#000" stroke-width="0.4" >lex-1<tspan font-size="6.6" dy="-3.30">-/-</tspan><tspan dy="3.3"> lex-1 WT</tspan></text>
<rect x="118.30" y="623.90" width="1.8" height="1.8" fill="#000"/>
<rect x="126.50" y="623.90" width="1.8" height="1.8" fill="#000"/>
<rect x="130.70" y="623.90" width="1.8" height="1.8" fill="#000"/>
<circle cx="126.10" cy="624.80" r="2.5" fill="none" stroke="#000" stroke-width="1.3"/>
<text x="142.20" y="629.30" font-size="10.1" font-weight="normal" text-anchor="start" fill="#000" stroke="#000" stroke-width="0.4" >lex-1<tspan font-size="6.6" dy="-3.30">-/-</tspan><tspan dy="3.3"> lex-1 ΔFTF</tspan></text>
<text x="251.80" y="425.30" font-size="18" font-weight="bold" text-anchor="start" fill="#000" stroke="#000" stroke-width="0.4" >F</text>
<text x="0" y="0" font-size="12.4" font-weight="bold" text-anchor="middle" stroke="#000" stroke-width="0.4" transform="translate(273.2,499.5) rotate(-90)">Tail moment</text>
<line x1="297.30" y1="439.10" x2="297.30" y2="560.70" stroke="#000" stroke-width="1.3" />
<line x1="293.30" y1="560.10" x2="297.30" y2="560.10" stroke="#000" stroke-width="1.3" />
<text x="293.00" y="563.60" font-size="9.9" font-weight="bold" text-anchor="end" fill="#000" stroke="#000" stroke-width="0.4" >0.0</text>
<line x1="293.30" y1="530.00" x2="297.30" y2="530.00" stroke="#000" stroke-width="1.3" />
<text x="293.00" y="533.50" font-size="9.9" font-weight="bold" text-anchor="end" fill="#000" stroke="#000" stroke-width="0.4" >0.2</text>
<line x1="293.30" y1="499.90" x2="297.30" y2="499.90" stroke="#000" stroke-width="1.3" />
<text x="293.00" y="503.40" font-size="9.9" font-weight="bold" text-anchor="end" fill="#000" stroke="#000" stroke-width="0.4" >0.4</text>
<line x1="293.30" y1="469.80" x2="297.30" y2="469.80" stroke="#000" stroke-width="1.3" />
<text x="293.00" y="473.30" font-size="9.9" font-weight="bold" text-anchor="end" fill="#000" stroke="#000" stroke-width="0.4" >0.6</text>
<line x1="293.30" y1="439.70" x2="297.30" y2="439.70" stroke="#000" stroke-width="1.3" />
<text x="293.00" y="443.20" font-size="9.9" font-weight="bold" text-anchor="end" fill="#000" stroke="#000" stroke-width="0.4" >0.8</text>
<line x1="332.60" y1="466.94" x2="332.60" y2="455.50" stroke="#000" stroke-width="1.2" />
<line x1="328.00" y1="455.50" x2="337.20" y2="455.50" stroke="#000" stroke-width="1.2" />
<rect x="323.60" y="466.94" width="18.00" height="93.16" fill="#000" stroke="none" stroke-width="1.2" />
<line x1="358.00" y1="468.30" x2="358.00" y2="455.50" stroke="#a2a2a2" stroke-width="1.2" />
<line x1="353.40" y1="455.50" x2="362.60" y2="455.50" stroke="#a2a2a2" stroke-width="1.2" />
<rect x="349.00" y="468.30" width="18.00" height="91.81" fill="#a2a2a2" stroke="none" stroke-width="1.2" />
<line x1="383.40" y1="475.37" x2="383.40" y2="462.58" stroke="#000" stroke-width="1.2" />
<line x1="378.80" y1="462.58" x2="388.00" y2="462.58" stroke="#000" stroke-width="1.2" />
<rect x="374.40" y="475.37" width="18.00" height="84.73" fill="#fff" stroke="none" stroke-width="1.2" />
<line x1="374.40" y1="478.20" x2="392.40" y2="478.20" stroke="#000" stroke-width="1.35" />
<line x1="374.40" y1="481.03" x2="392.40" y2="481.03" stroke="#000" stroke-width="1.35" />
<line x1="374.40" y1="483.86" x2="392.40" y2="483.86" stroke="#000" stroke-width="1.35" />
<line x1="374.40" y1="486.69" x2="392.40" y2="486.69" stroke="#000" stroke-width="1.35" />
<line x1="374.40" y1="489.52" x2="392.40" y2="489.52" stroke="#000" stroke-width="1.35" />
<line x1="374.40" y1="492.35" x2="392.40" y2="492.35" stroke="#000" stroke-width="1.35" />
<line x1="374.40" y1="495.18" x2="392.40" y2="495.18" stroke="#000" stroke-width="1.35" />
<line x1="374.40" y1="498.01" x2="392.40" y2="498.01" stroke="#000" stroke-width="1.35" />
<line x1="374.40" y1="500.84" x2="392.40" y2="500.84" stroke="#000" stroke-width="1.35" />
<line x1="374.40" y1="503.67" x2="392.40" y2="503.67" stroke="#000" stroke-width="1.35" />
<line x1="374.40" y1="506.50" x2="392.40" y2="506.50" stroke="#000" stroke-width="1.35" />
<line x1="374.40" y1="509.33" x2="392.40" y2="509.33" stroke="#000" stroke-width="1.35" />
<line x1="374.40" y1="512.16" x2="392.40" y2="512.16" stroke="#000" stroke-width="1.35" />
<line x1="374.40" y1="514.99" x2="392.40" y2="514.99" stroke="#000" stroke-width="1.35" />
<line x1="374.40" y1="517.82" x2="392.40" y2="517.82" stroke="#000" stroke-width="1.35" />
<line x1="374.40" y1="520.65" x2="392.40" y2="520.65" stroke="#000" stroke-width="1.35" />
<line x1="374.40" y1="523.48" x2="392.40" y2="523.48" stroke="#000" stroke-width="1.35" />
<line x1="374.40" y1="526.31" x2="392.40" y2="526.31" stroke="#000" stroke-width="1.35" />
<line x1="374.40" y1="529.14" x2="392.40" y2="529.14" stroke="#000" stroke-width="1.35" />
<line x1="374.40" y1="531.97" x2="392.40" y2="531.97" stroke="#000" stroke-width="1.35" />
<line x1="374.40" y1="534.80" x2="392.40" y2="534.80" stroke="#000" stroke-width="1.35" />
<line x1="374.40" y1="537.63" x2="392.40" y2="537.63" stroke="#000" stroke-width="1.35" />
<line x1="374.40" y1="540.46" x2="392.40" y2="540.46" stroke="#000" stroke-width="1.35" />
<line x1="374.40" y1="543.29" x2="392.40" y2="543.29" stroke="#000" stroke-width="1.35" />
<line x1="374.40" y1="546.12" x2="392.40" y2="546.12" stroke="#000" stroke-width="1.35" />
<line x1="374.40" y1="548.95" x2="392.40" y2="548.95" stroke="#000" stroke-width="1.35" />
<line x1="374.40" y1="551.78" x2="392.40" y2="551.78" stroke="#000" stroke-width="1.35" />
<line x1="374.40" y1="554.61" x2="392.40" y2="554.61" stroke="#000" stroke-width="1.35" />
<line x1="374.40" y1="557.44" x2="392.40" y2="557.44" stroke="#000" stroke-width="1.35" />
<rect x="374.40" y="475.37" width="18.00" height="84.73" fill="none" stroke="#000" stroke-width="1.2" />
<line x1="426.30" y1="543.85" x2="426.30" y2="542.04" stroke="#000" stroke-width="1.2" />
<line x1="421.70" y1="542.04" x2="430.90" y2="542.04" stroke="#000" stroke-width="1.2" />
<rect x="417.30" y="543.85" width="18.00" height="16.25" fill="#000" stroke="none" stroke-width="1.2" />
<line x1="452.00" y1="489.82" x2="452.00" y2="480.18" stroke="#a2a2a2" stroke-width="1.2" />
<line x1="447.40" y1="480.18" x2="456.60" y2="480.18" stroke="#a2a2a2" stroke-width="1.2" />
<rect x="443.00" y="489.82" width="18.00" height="70.28" fill="#a2a2a2" stroke="none" stroke-width="1.2" />
<line x1="477.70" y1="523.83" x2="477.70" y2="518.56" stroke="#000" stroke-width="1.2" />
<line x1="473.10" y1="518.56" x2="482.30" y2="518.56" stroke="#000" stroke-width="1.2" />
<rect x="468.70" y="523.83" width="18.00" height="36.27" fill="#fff" stroke="none" stroke-width="1.2" />
<line x1="468.70" y1="526.66" x2="486.70" y2="526.66" stroke="#000" stroke-width="1.35" />
<line x1="468.70" y1="529.49" x2="486.70" y2="529.49" stroke="#000" stroke-width="1.35" />
<line x1="468.70" y1="532.32" x2="486.70" y2="532.32" stroke="#000" stroke-width="1.35" />
<line x1="468.70" y1="535.15" x2="486.70" y2="535.15" stroke="#000" stroke-width="1.35" />
<line x1="468.70" y1="537.98" x2="486.70" y2="537.98" stroke="#000" stroke-width="1.35" />
<line x1="468.70" y1="540.81" x2="486.70" y2="540.81" stroke="#000" stroke-width="1.35" />
<line x1="468.70" y1="543.64" x2="486.70" y2="543.64" stroke="#000" stroke-width="1.35" />
<line x1="468.70" y1="546.47" x2="486.70" y2="546.47" stroke="#000" stroke-width="1.35" />
<line x1="468.70" y1="549.30" x2="486.70" y2="549.30" stroke="#000" stroke-width="1.35" />
<line x1="468.70" y1="552.13" x2="486.70" y2="552.13" stroke="#000" stroke-width="1.35" />
<line x1="468.70" y1="554.96" x2="486.70" y2="554.96" stroke="#000" stroke-width="1.35" />
<line x1="468.70" y1="557.79" x2="486.70" y2="557.79" stroke="#000" stroke-width="1.35" />
<rect x="468.70" y="523.83" width="18.00" height="36.27" fill="none" stroke="#000" stroke-width="1.2" />
<line x1="427.30" y1="475.70" x2="481.20" y2="475.70" stroke="#000" stroke-width="1.3" />
<text x="441.20" y="475.20" font-size="11.5" font-weight="bold" text-anchor="middle" fill="#000" stroke="#000" stroke-width="0.4" >***</text>
<text x="468.40" y="477.10" font-size="11.5" font-weight="bold" text-anchor="middle" fill="#000" stroke="#000" stroke-width="0.4" >*</text>
<line x1="310.40" y1="573.40" x2="501.00" y2="573.40" stroke="#000" stroke-width="1.3" />
<line x1="357.70" y1="573.40" x2="357.70" y2="577.30" stroke="#000" stroke-width="1.3" />
<text x="357.70" y="587.30" font-size="9.2" font-weight="bold" text-anchor="middle" fill="#000" stroke="#000" stroke-width="0.4" >0</text>
<line x1="452.60" y1="573.40" x2="452.60" y2="577.30" stroke="#000" stroke-width="1.3" />
<text x="452.60" y="587.30" font-size="9.2" font-weight="bold" text-anchor="middle" fill="#000" stroke="#000" stroke-width="0.4" >5</text>
<text x="405.50" y="602.30" font-size="11" font-weight="bold" text-anchor="middle" fill="#000" stroke="#000" stroke-width="0.4" >time after IR (h)</text>
<rect x="283.80" y="616.30" width="16.20" height="6.80" fill="#000" stroke="none" stroke-width="1.2" />
<text x="306.60" y="623.10" font-size="9.6" font-weight="normal" text-anchor="start" fill="#000" stroke="#000" stroke-width="0.4" >WT GFP</text>
<rect x="353.30" y="616.00" width="16.00" height="7.00" fill="#a2a2a2" stroke="none" stroke-width="1.2" />
<text x="376.00" y="623.10" font-size="9.6" font-weight="normal" text-anchor="start" fill="#000" stroke="#000" stroke-width="0.4" >Mpl<tspan font-size="6.4" dy="-3.20">-/-</tspan><tspan dy="3.2"> GFP</tspan></text>
<rect x="432.20" y="614.60" width="14.50" height="7.60" fill="#000" stroke="#000" stroke-width="1.0" />
<line x1="433.20" y1="616.40" x2="445.70" y2="616.40" stroke="#b0b0b0" stroke-width="0.9" />
<line x1="433.20" y1="619.00" x2="445.70" y2="619.00" stroke="#b0b0b0" stroke-width="0.9" />
<text x="454.00" y="623.10" font-size="9.6" font-weight="normal" text-anchor="start" fill="#000" stroke="#000" stroke-width="0.4" >Mpl<tspan font-size="6.4" dy="-3.20">-/-</tspan><tspan dy="3.2"> lex-1</tspan></text>
</svg></body></html>
